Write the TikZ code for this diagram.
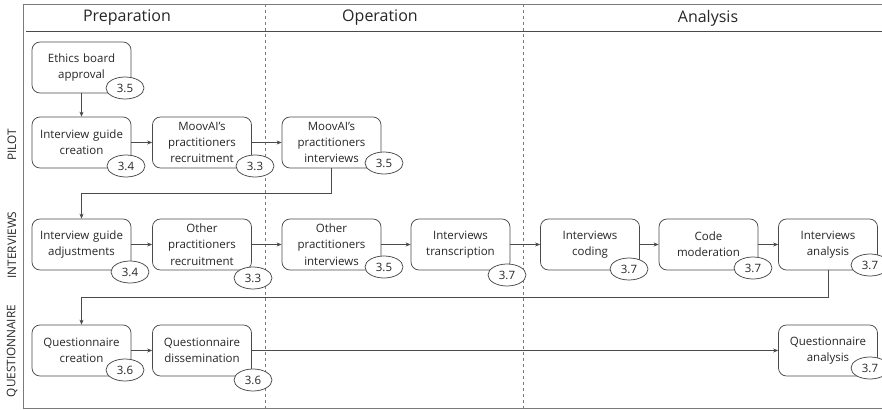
\documentclass[tikz,border=0pt]{standalone}
\usepackage{fontspec}
\setmainfont{Open Sans}
\usetikzlibrary{arrows.meta,shapes.geometric}
\definecolor{txt}{HTML}{262626}
\definecolor{ln}{HTML}{4A4A4A}
\definecolor{frame}{HTML}{7A7A7A}
\tikzset{
  stepbox/.style={draw=ln, line width=0.75pt, rounded corners=8pt, minimum width=99pt, minimum height=51pt,
    text width=96pt, align=center, inner sep=0pt, text=txt,
    font=\fontsize{11.5}{16.3}\selectfont},
  badge/.style={draw=ln, line width=0.75pt, ellipse, fill=white, minimum width=38pt, minimum height=22pt,
    inner sep=0pt, text=txt, font=\fontsize{11.5}{13}\selectfont},
  flow/.style={draw=ln, line width=0.75pt, -{Stealth[length=5pt,width=4pt]}},
  phase/.style={text=txt, font=\fontsize{16}{18}\selectfont},
  lane/.style={text=txt, rotate=90, font=\fontsize{11.8}{13}\selectfont},
  sep/.style={draw=frame, dashed, line width=0.6pt}
}
\begin{document}
\begin{tikzpicture}[x=1pt,y=-1pt]
\useasboundingbox (0,0) rectangle (882,409);
% frame
\draw[frame, line width=0.8pt] (882,4) -- (23,4) -- (23,408) -- (882,408);
\draw[ln, line width=0.8pt] (26,31) -- (882,31);
\draw[sep] (265,4) -- (265,408);
\draw[sep] (523,4) -- (523,408);
% phases
\node[phase] (ph1) at (127,18) {Preparation};
\node[phase] (ph2) at (380,18) {Operation};
\node[phase] (ph3) at (708,18) {Analysis};
% lanes
\node[lane] (l1) at (12,145) {PILOT};
\node[lane] (l2) at (12,245) {INTERVIEWS};
\node[lane] (l3) at (12,351) {QUESTIONNAIRE};
% pilot
\node[stepbox] (eth) at (81.5,67.5) {Ethics board\\approval};
\node[stepbox] (igc) at (81.5,142.5) {Interview guide\\creation};
\node[stepbox] (mpr) at (202,142.5) {MoovAI’s\\practitioners\\recruitment};
\node[stepbox] (mpi) at (331.5,142.5) {MoovAI’s\\practitioners\\interviews};
% interviews
\node[stepbox] (iga) at (81.5,244.5) {Interview guide\\adjustments};
\node[stepbox] (opr) at (202,244.5) {Other\\practitioners\\recruitment};
\node[stepbox] (opi) at (331.5,244.5) {Other\\practitioners\\interviews};
\node[stepbox] (itr) at (460.5,244.5) {Interviews\\transcription};
\node[stepbox] (ico) at (590,244.5) {Interviews\\coding};
\node[stepbox] (cmo) at (708.5,244.5) {Code\\moderation};
\node[stepbox] (ian) at (828,244.5) {Interviews\\analysis};
% questionnaire
\node[stepbox] (qcr) at (81.5,350.5) {Questionnaire\\creation};
\node[stepbox] (qdi) at (202,350.5) {Questionnaire\\dissemination};
\node[stepbox] (qan) at (828,350.5) {Questionnaire\\analysis};
% badges
\node[badge] (b1) at (125,88) {3.5};
\node[badge] (b2) at (126,166) {3.4};
\node[badge] (b3) at (255,166) {3.3};
\node[badge] (b4) at (384,163) {3.5};
\node[badge] (b5) at (130,272) {3.4};
\node[badge] (b6) at (253,278) {3.3};
\node[badge] (b7) at (384,267) {3.5};
\node[badge] (b8) at (507,275) {3.7};
\node[badge] (b9) at (629,269) {3.7};
\node[badge] (b10) at (753,268) {3.7};
\node[badge] (b11) at (870,265) {3.7};
\node[badge] (b12) at (125,370) {3.6};
\node[badge] (b13) at (253,380) {3.6};
\node[badge] (b14) at (870,368) {3.7};
% connectors
\draw[flow] (eth) -- (igc);
\draw[flow] (igc) -- (mpr);
\draw[flow] (mpr) -- (mpi);
\draw[flow] (mpi.south) -- ++(0,25) -| (iga.north);
\draw[flow] (iga) -- (opr);
\draw[flow] (opr) -- (opi);
\draw[flow] (opi) -- (itr);
\draw[flow] (itr) -- (ico);
\draw[flow] (ico) -- (cmo);
\draw[flow] (cmo) -- (ian);
\draw[flow] (ian.south) -- ++(0,27) -| (qcr.north);
\draw[flow] (qcr) -- (qdi);
\draw[flow] (qdi) -- (qan);
\end{tikzpicture}
\end{document}
